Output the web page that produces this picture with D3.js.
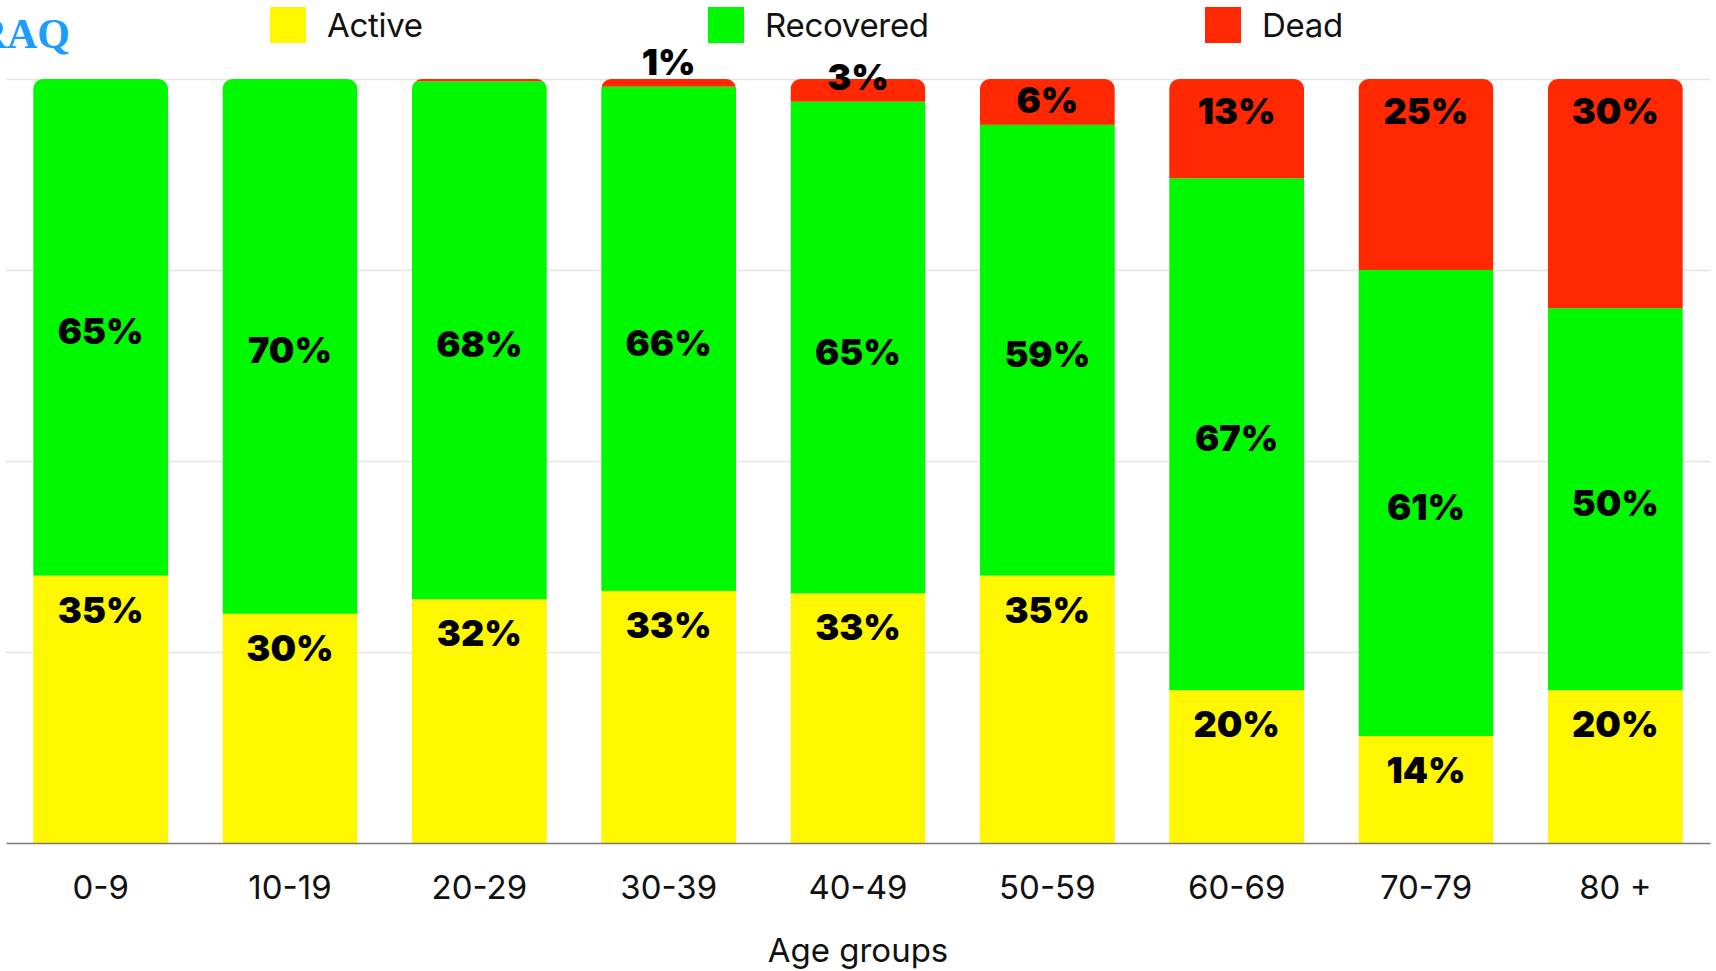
<!DOCTYPE html>
<html>
<head>
<meta charset="utf-8">
<script src="https://cdn.jsdelivr.net/npm/d3@7"></script>
<style>
  html, body { margin: 0; padding: 0; background: #ffffff; }
  svg { display: block; }
</style>
</head>
<body>
<svg id="chart" width="1716" height="971"></svg>
<script>
// Case outcomes by age group (percent of cases in each group)
const ageGroups = ["0-9", "10-19", "20-29", "30-39", "40-49", "50-59", "60-69", "70-79", "80 +"];
const active    = [35, 30, 32, 33, 33, 35, 20, 14, 20];
const recovered = [65, 70, 68, 66, 65, 59, 67, 61, 50];
const dead      = [0, 0, 0.3, 1, 3, 6, 13, 25, 30];
const seriesNames = ["Active", "Recovered", "Dead"];
const gridTicks = [0.25, 0.5, 0.75, 1];
const axisTitle = "Age groups";
const brand = "IRAQ";

const colors = { Active: "#fff700", Recovered: "#00f800", Dead: "#ff2800" };

const svg = d3.select("#chart");
const plot = { left: 6, right: 1710, top: 79, bottom: 843 };

const rows = ageGroups.map((g, i) => ({
  group: g, Active: active[i], Recovered: recovered[i], Dead: dead[i]
}));

const stack = d3.stack().keys(seriesNames).offset(d3.stackOffsetExpand);
const layers = stack(rows);

const x = d3.scaleBand().domain(ageGroups).range([plot.left, plot.right]).paddingInner(0.287).paddingOuter(0.1435);
const y = d3.scaleLinear().domain([0, 1]).range([plot.bottom, plot.top]);

// horizontal gridlines
const grid = svg.append("g").attr("transform", `translate(${plot.left},0)`)
  .call(d3.axisLeft(y).tickValues(gridTicks).tickSize(-(plot.right - plot.left)).tickFormat(""));
grid.select(".domain").remove();
grid.selectAll(".tick line").attr("stroke", "#e4e4e4").attr("stroke-width", 1.5);

// clip each column to a rectangle with rounded top corners
const r = 10;
const defs = svg.append("defs");
ageGroups.forEach((g, i) => {
  const x0 = x(g), bw = x.bandwidth(), t = y(1), b = y(0);
  const p = d3.path();
  p.moveTo(x0, b);
  p.lineTo(x0, t + r);
  p.arcTo(x0, t, x0 + r, t, r);
  p.lineTo(x0 + bw - r, t);
  p.arcTo(x0 + bw, t, x0 + bw, t + r, r);
  p.lineTo(x0 + bw, b);
  p.closePath();
  defs.append("clipPath").attr("id", "col" + i).append("path").attr("d", p.toString());
});

const cols = svg.append("g").selectAll("g.col").data(ageGroups).join("g")
  .attr("class", "col")
  .attr("clip-path", (d, i) => `url(#col${i})`);

cols.each(function (g, i) {
  const sel = d3.select(this);
  layers.forEach(layer => {
    const seg = layer[i];
    if (seg[1] - seg[0] <= 0) return;
    sel.append("rect")
      .attr("x", x(g))
      .attr("width", x.bandwidth())
      .attr("y", y(seg[1]))
      .attr("height", y(seg[0]) - y(seg[1]))
      .attr("fill", colors[layer.key]);
  });
});

// value labels
const labels = svg.append("g")
  .attr("font-family", "Inter, 'Noto Sans', sans-serif")
  .attr("font-weight", 900)
  .attr("font-size", 36)
  .attr("fill", "#000")
  .attr("text-anchor", "middle");

layers.forEach(layer => {
  layer.forEach((seg, i) => {
    const v = rows[i][layer.key];
    if (v < 1) return;
    const top = y(seg[1]), bot = y(seg[0]);
    let cy;
    if (layer.key === "Active") cy = top + 34;
    else if (layer.key === "Recovered") cy = (top + bot) / 2 + 4;
    else cy = Math.min(top + 32, bot - 25);
    labels.append("text")
      .attr("x", x(ageGroups[i]) + x.bandwidth() / 2)
      .attr("y", cy)
      .attr("dominant-baseline", "central")
      .text(v + "%");
  });
});

// x axis
const xAxis = svg.append("g").attr("transform", `translate(0,${plot.bottom})`)
  .call(d3.axisBottom(x).tickSize(0).tickPadding(33));
xAxis.select(".domain").attr("stroke", "#7a7a7a").attr("stroke-width", 1.5);
xAxis.selectAll(".tick text")
  .attr("font-family", "Inter, 'Noto Sans', sans-serif")
  .attr("font-size", 33)
  .attr("fill", "#111");

svg.append("text")
  .attr("x", (plot.left + plot.right) / 2)
  .attr("y", 962)
  .attr("text-anchor", "middle")
  .attr("font-family", "Inter, 'Noto Sans', sans-serif")
  .attr("font-size", 33)
  .attr("fill", "#111")
  .text(axisTitle);

// legend
const legendX = [270, 708, 1205];
const legend = svg.append("g");
seriesNames.forEach((name, i) => {
  const g = legend.append("g").attr("transform", `translate(${legendX[i]},7)`);
  g.append("rect").attr("width", 36).attr("height", 36).attr("fill", colors[name]);
  g.append("text")
    .attr("x", 57).attr("y", 18)
    .attr("dominant-baseline", "central")
    .attr("font-family", "Inter, 'Noto Sans', sans-serif")
    .attr("font-size", 33)
    .attr("letter-spacing", -0.3)
    .attr("fill", "#111")
    .text(name);
});

// brand mark, partly cut by the left edge
svg.append("text")
  .attr("x", 70).attr("y", 48)
  .attr("text-anchor", "end")
  .attr("font-family", "'Liberation Serif', 'DejaVu Serif', serif")
  .attr("font-weight", 700)
  .attr("font-size", 42)
  .attr("fill", "#1a9dff")
  .text(brand);
</script>
</body>
</html>
